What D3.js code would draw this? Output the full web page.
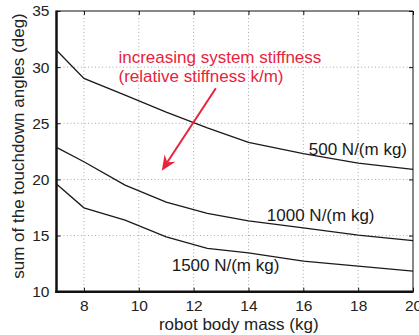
<!DOCTYPE html>
<html><head><meta charset="utf-8">
<script src="https://cdn.jsdelivr.net/npm/d3@7"></script>
<style>
html,body{margin:0;padding:0;background:#fff;}
svg{display:block;font-family:"Liberation Sans",Arial,sans-serif;}
</style></head>
<body><svg id="c" width="419" height="335"></svg>
<script>
const mass = [7, 8, 9.5, 11, 12.5, 14, 16, 18, 20];
const s500 = [31.5, 29.0, 27.5, 26.0, 24.6, 23.3, 22.3, 21.45, 20.9];
const s1000 = [22.85, 21.57, 19.49, 17.98, 16.97, 16.31, 15.68, 15.04, 14.55];
const s1500 = [19.6, 17.47, 16.37, 14.88, 13.85, 13.46, 12.72, 12.27, 11.83];
const seriesNames = ["500 N/(m kg)", "1000 N/(m kg)", "1500 N/(m kg)"];
const labelX = [16.2, 14.67, 11.2];
const labelY = [22.18, 16.3, 11.85];
const xTicks = [8, 10, 12, 14, 16, 18, 20];
const yTicks = [10, 15, 20, 25, 30, 35];
const noteLines = ["increasing system stiffness", "(relative stiffness k/m)"];
const noteX = 9.26, noteY = [30.4, 28.7];
const arrowFrom = [12.81, 28.12], arrowTo = [10.84, 20.78];

const svg = d3.select("#c");
const L = 56.5, R = 413, T = 11, B = 291.7;
const x = d3.scaleLinear().domain([7, 20]).range([L, R]);
const y = d3.scaleLinear().domain([10, 35]).range([B, T]);
const red = "#e8233c";

// grid
const g = svg.append("g");
g.selectAll("line.gx").data(xTicks.filter(t => t > 7 && t < 20)).join("line")
  .attr("x1", d => x(d)).attr("x2", d => x(d)).attr("y1", T).attr("y2", B)
  .attr("stroke", "#a8a8a8").attr("stroke-width", 1).attr("stroke-dasharray", "1,2.5");
g.selectAll("line.gy").data(yTicks.filter(t => t > 10 && t < 35)).join("line")
  .attr("y1", d => y(d)).attr("y2", d => y(d)).attr("x1", L).attr("x2", R)
  .attr("stroke", "#a8a8a8").attr("stroke-width", 1).attr("stroke-dasharray", "1,2.5");

// axes
const xAxisB = d3.axisBottom(x).tickValues(xTicks).tickSizeInner(-4).tickSizeOuter(0).tickPadding(8);
const yAxisL = d3.axisLeft(y).tickValues(yTicks).tickSizeInner(-4).tickSizeOuter(0).tickPadding(7);
const gx = svg.append("g").attr("transform", `translate(0,${B})`).call(xAxisB);
const gy = svg.append("g").attr("transform", `translate(${L},0)`).call(yAxisL);
svg.append("g").attr("transform", `translate(0,${T})`)
  .call(d3.axisTop(x).tickValues(xTicks).tickSizeInner(-4).tickSizeOuter(0).tickFormat(""));
svg.append("g").attr("transform", `translate(${R},0)`)
  .call(d3.axisRight(y).tickValues(yTicks).tickSizeInner(-4).tickSizeOuter(0).tickFormat(""));
svg.selectAll(".domain").remove();
svg.selectAll(".tick line").attr("stroke", "#111").attr("stroke-width", 1);
[gx, gy].forEach(a => a.selectAll("text").attr("font-size", 15.5).attr("fill", "#222")
  .attr("font-family", "Liberation Sans, Arial, sans-serif"));

// frame
svg.append("line").attr("x1", L).attr("x2", R).attr("y1", T).attr("y2", T).attr("stroke", "#111").attr("stroke-width", 1);
svg.append("line").attr("x1", R).attr("x2", R).attr("y1", T).attr("y2", B).attr("stroke", "#111").attr("stroke-width", 1);
svg.append("line").attr("x1", L).attr("x2", L).attr("y1", T - 0.5).attr("y2", B + 1.2).attr("stroke", "#111").attr("stroke-width", 2.5);
svg.append("line").attr("x1", L - 1.2).attr("x2", R + 0.5).attr("y1", B).attr("y2", B).attr("stroke", "#111").attr("stroke-width", 2.5);

// curves
const line = d3.line().x(d => x(d[0])).y(d => y(d[1]));
[s500, s1000, s1500].forEach((s, i) => {
  svg.append("path").datum(mass.map((m, j) => [m, s[j]]))
    .attr("d", line).attr("fill", "none").attr("stroke", "#1a1a1a").attr("stroke-width", 1.3);
  svg.append("text").attr("x", x(labelX[i])).attr("y", y(labelY[i]))
    .attr("font-size", 17).attr("fill", "#1a1a1a").text(seriesNames[i]);
});

// annotation
noteLines.forEach((t, i) => {
  svg.append("text").attr("x", x(noteX)).attr("y", y(noteY[i]))
    .attr("font-size", 17).attr("fill", red).text(t);
});
const ax0 = x(arrowFrom[0]), ay0 = y(arrowFrom[1]), ax1 = x(arrowTo[0]), ay1 = y(arrowTo[1]);
const dx = ax1 - ax0, dy = ay1 - ay0, len = Math.hypot(dx, dy);
const ux = dx / len, uy = dy / len, px = -uy, py = ux;
const hl = 15, hw = 6.5, notch = 10;
svg.append("line").attr("x1", ax0).attr("y1", ay0)
  .attr("x2", ax1 - ux * notch).attr("y2", ay1 - uy * notch)
  .attr("stroke", red).attr("stroke-width", 2);
const pts = [
  [ax1, ay1],
  [ax1 - ux * hl + px * hw, ay1 - uy * hl + py * hw],
  [ax1 - ux * notch, ay1 - uy * notch],
  [ax1 - ux * hl - px * hw, ay1 - uy * hl - py * hw]
];
svg.append("path").attr("d", "M" + pts.map(p => p.join(",")).join("L") + "Z").attr("fill", red);

// axis labels
svg.append("text").attr("x", (L + R) / 2 + 4).attr("y", 330).attr("text-anchor", "middle")
  .attr("font-size", 17).attr("fill", "#222").text("robot body mass (kg)");
svg.append("text").attr("transform", `translate(24,146) rotate(-90)`).attr("text-anchor", "middle")
  .attr("font-size", 17).attr("fill", "#222").text("sum of the touchdown angles (deg)");
</script></body></html>
